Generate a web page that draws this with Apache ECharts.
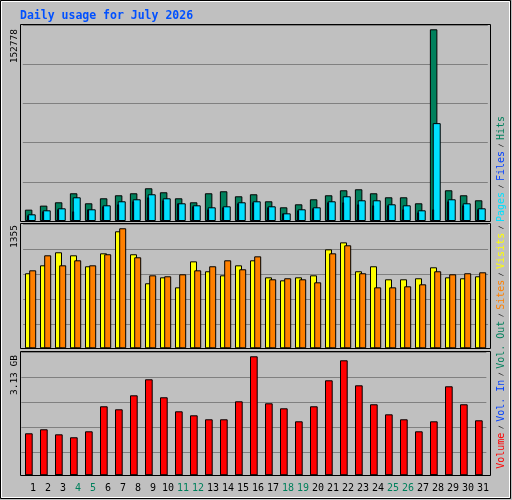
<!DOCTYPE html>
<html><head><meta charset="utf-8">
<script src="https://cdn.jsdelivr.net/npm/echarts@6/dist/echarts.min.js"></script>
<style>html,body{margin:0;padding:0;background:#c0c0c0}#c{width:512px;height:500px}</style>
</head><body><div id="c"></div>
<script>
const days = ['1','2','3','4','5','6','7','8','9','10','11','12','13','14','15','16','17','18','19','20','21','22','23','24','25','26','27','28','29','30','31'];
const weekendDays = ['4','5','11','12','18','19','25','26'];
const hits = [9050,12245,14907,22095,14109,18102,20497,22095,26088,22893,18102,14907,22095,23692,19699,21296,15706,10914,13310,17303,20497,24490,25289,22095,18900,18900,14109,152778,24490,20497,16504];
const files = [4525,7720,9317,7720,9317,11713,13310,15706,18900,16504,14109,11713,9317,10914,14109,14907,10914,6123,8518,10116,14907,14907,13310,12511,12511,9317,6921,9317,15706,12511,9317];
const pages = [5324,8518,10116,18900,9317,12511,15706,17303,21296,18102,14109,12511,10914,11713,14907,15706,11713,6123,9317,10914,15706,19699,16504,16504,13310,12511,8518,77997,17303,14109,10116];
const visits = [869,961,1112,1077,950,1100,1355,1089,753,822,706,1007,892,845,961,1019,822,787,822,845,1146,1227,892,950,799,799,811,938,822,811,834];
const sites = [903,1077,961,1019,961,1089,1390,1054,845,834,857,903,950,1019,915,1065,799,811,799,764,1100,1193,869,706,706,718,741,892,857,869,880];
const volume = [1.105,1.210,1.078,1.000,1.157,1.815,1.736,2.104,2.525,2.052,1.683,1.578,1.473,1.473,1.946,3.130,1.894,1.762,1.420,1.815,2.499,3.025,2.367,1.868,1.604,1.473,1.157,1.420,2.341,1.868,1.447];
const volOut = [0,0,0.02,0.02,0,0,0,0,0,0,0,0,0,0,0,0,0,0,0,0,0,0,0,0,0,0,0,0.02,0,0,0];
const maxHitsLabel = '152778', maxVisitsLabel = '1355', maxVolLabel = '3.13 GB';

const mono = 'DejaVu Sans Mono';
const GL = '#808080';
function helperAxis(gi, h){ return {gridIndex:gi, type:'value', inverse:true, min:0, max:h, interval:25, show:true,
  axisLine:{show:false}, axisTick:{show:false}, axisLabel:{show:false}, splitLine:{show:true,lineStyle:{color:GL,width:1}}}; }
function hideX(gi){ return {gridIndex:gi, type:'category', data:days, show:false}; }
const chart = echarts.init(document.getElementById('c'), null, {renderer:'canvas'});
chart.setOption({
  backgroundColor:'#c0c0c0',
  animation:false,
  grid:[
    {left:22.8, width:465, top:25, height:196},
    {left:23.1, width:465, top:224.3, height:124},
    {left:21.35, width:465, top:352.3, height:123},
    {left:25.5, width:465, top:478, height:1}
  ],
  xAxis:[hideX(0),hideX(1),hideX(2),
    {gridIndex:3, type:'category', data:days, axisLine:{show:false}, axisTick:{show:false},
     axisLabel:{margin:4, fontFamily:mono, fontSize:10, interval:0,
       color:(v)=> weekendDays.includes(v)?'#00805c':'#000'}}],
  yAxis:[
    {gridIndex:0, type:'value', min:0, max:156205, show:false, splitLine:{show:false}},
    {gridIndex:1, type:'value', min:0, max:1436, show:false, splitLine:{show:false}},
    {gridIndex:2, type:'value', min:0, max:3.235, show:false, splitLine:{show:false}},
    {gridIndex:3, type:'value', show:false},
    Object.assign(helperAxis(0,200),{interval:40}),
    helperAxis(1,124),
    helperAxis(2,123)
  ],
  series:[
    {name:'Hits', type:'bar', xAxisIndex:0, yAxisIndex:0, data:hits, barWidth:7.5, barGap:'-70%',
      itemStyle:{color:'#00805c', borderColor:'#000', borderWidth:1}, z:2},
    {name:'Files', type:'bar', xAxisIndex:0, yAxisIndex:0, data:files, barWidth:2, barGap:'-70%',
      itemStyle:{color:'#0040ff', borderColor:'#000', borderWidth:1}, z:3},
    {name:'Pages', type:'bar', xAxisIndex:0, yAxisIndex:0, data:pages, barWidth:8, barGap:'-70%',
      itemStyle:{color:'#00e0ff', borderColor:'#000', borderWidth:1}, z:2},
    {name:'Visits', type:'bar', xAxisIndex:1, yAxisIndex:1, data:visits, barWidth:7, barGap:'-40%',
      itemStyle:{color:'#ffff00', borderColor:'#000', borderWidth:1}, z:2},
    {name:'Sites', type:'bar', xAxisIndex:1, yAxisIndex:1, data:sites, barWidth:7, barGap:'-40%',
      itemStyle:{color:'#ff8000', borderColor:'#000', borderWidth:1}, z:2},
    {name:'Volume', type:'bar', xAxisIndex:2, yAxisIndex:2, data:volume, barWidth:7.7, barGap:'-100%',
      itemStyle:{color:'#ff0000', borderColor:'#000', borderWidth:1}, z:2},
    {name:'Vol. Out', type:'bar', xAxisIndex:2, yAxisIndex:2, data:volOut, barWidth:7.7, barGap:'-100%',
      itemStyle:{color:'#000', borderColor:'#000', borderWidth:1}, z:3}
  ],
  graphic:[
    {type:'rect', shape:{x:0.5,y:0.5,width:510,height:498}, style:{fill:null, stroke:'#000', lineWidth:1}, silent:true, z:-1},
    {type:'rect', shape:{x:1.5,y:1.5,width:508,height:496}, style:{fill:null, stroke:'#fff', lineWidth:1}, silent:true, z:-1},
    {type:'rect', shape:{x:20.5,y:24.5,width:470,height:197}, style:{fill:null, stroke:'#000', lineWidth:1}, z:10},
    {type:'rect', shape:{x:20.5,y:223.5,width:470,height:125}, style:{fill:null, stroke:'#000', lineWidth:1}, z:10},
    {type:'rect', shape:{x:20.5,y:351.5,width:470,height:124}, style:{fill:null, stroke:'#000', lineWidth:1}, z:10},
    {type:'text', x:20, y:16, style:{text:'Daily usage for July 2026', fill:'#0050ff', font:'bold 11.5px "DejaVu Sans Mono"', textVerticalAlign:'middle'}, z:10},
    {type:'text', x:15, y:29, rotation:Math.PI/2, style:{text:maxHitsLabel, fill:'#000', font:'9.5px "DejaVu Sans Mono"', textAlign:'right', textVerticalAlign:'middle'}, z:10},
    {type:'text', x:15, y:225, rotation:Math.PI/2, style:{text:maxVisitsLabel, fill:'#000', font:'9.5px "DejaVu Sans Mono"', textAlign:'right', textVerticalAlign:'middle'}, z:10},
    {type:'text', x:15, y:355, rotation:Math.PI/2, style:{text:maxVolLabel, fill:'#000', font:'9.5px "DejaVu Sans Mono"', textAlign:'right', textVerticalAlign:'middle'}, z:10},
    {type:'text', x:501, y:116, rotation:Math.PI/2, style:{
      text:'{r|Volume}{s| / }{b|Vol. In}{s| / }{g|Vol. Out}{s| / }{o|Sites}{s| / }{y|Visits}{s| / }{c|Pages}{s| / }{b|Files}{s| / }{g|Hits}',
      textAlign:'right', textVerticalAlign:'middle', font:'10px "DejaVu Sans Mono"',
      rich:{
        r:{fill:'#ff0000',font:'10px "DejaVu Sans Mono"'}, b:{fill:'#0040ff',font:'10px "DejaVu Sans Mono"'},
        g:{fill:'#00805c',font:'10px "DejaVu Sans Mono"'}, o:{fill:'#ff8000',font:'10px "DejaVu Sans Mono"'},
        y:{fill:'#ffff00',font:'10px "DejaVu Sans Mono"'}, c:{fill:'#00e0ff',font:'10px "DejaVu Sans Mono"'},
        s:{fill:'#000',font:'6px "DejaVu Sans Mono"'}
      }}, z:10}
  ]
});
</script></body></html>
